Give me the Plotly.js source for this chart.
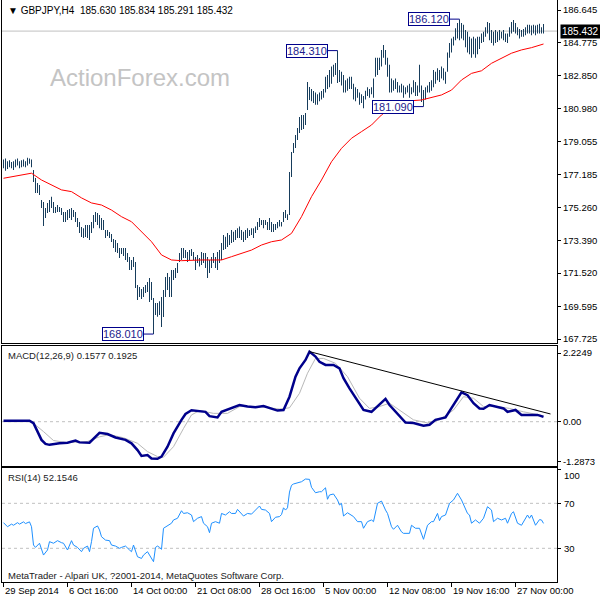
<!DOCTYPE html>
<html><head><meta charset="utf-8">
<script src="https://cdn.plot.ly/plotly-3.0.1.min.js"></script>
<style>html,body{margin:0;padding:0;background:#fff;}#chart{width:600px;height:600px;}</style>
</head><body><div id="chart"></div>
<script>
// ---- price bars (H4), index 0..270 ----
const high = [
178.05,178.10,177.95,178.00,177.90,177.95,178.05,178.10,177.95,178.00,178.05,177.95,178.15,178.10,178.05,
177.44,176.98,176.70,176.58,175.72,175.60,175.26,175.55,175.72,175.90,175.60,175.31,175.43,175.31,175.26,
175.03,175.03,175.14,175.20,175.26,175.14,175.03,174.68,174.45,174.16,174.10,174.28,174.28,174.28,174.45,
174.86,175.03,174.97,174.86,174.68,174.57,173.99,173.99,173.88,173.76,173.48,173.42,173.25,172.96,172.96,
172.96,172.96,172.67,172.44,172.27,172.44,172.15,170.83,170.72,170.60,170.72,170.83,171.00,171.24,171.00,
170.09,169.80,169.80,169.90,170.14,170.55,171.29,171.52,171.29,171.70,171.70,171.81,172.10,172.67,172.96,
172.96,172.85,172.73,172.85,172.90,172.73,172.44,172.56,172.38,172.73,172.67,172.67,172.44,172.27,172.44,
172.67,172.44,172.73,172.85,173.25,173.71,173.60,173.82,173.71,173.99,173.90,173.99,174.10,174.20,173.99,
173.90,173.99,174.10,173.99,174.10,174.10,174.20,174.45,174.68,174.57,174.57,174.57,174.45,174.68,174.45,
174.34,174.34,174.45,174.57,174.45,175.03,175.14,174.90,177.33,178.48,179.00,179.46,179.86,180.49,180.61,
180.61,180.72,182.50,182.22,182.10,181.99,181.90,181.80,181.90,181.99,182.10,182.80,182.90,183.20,183.40,
183.50,183.60,184.31,183.20,183.10,182.90,182.60,182.70,182.80,182.80,182.40,182.20,182.10,181.90,181.80,
181.70,182.00,182.20,182.10,182.20,182.70,183.90,183.90,183.90,184.35,184.63,184.35,183.90,183.50,182.70,
182.60,182.70,182.50,182.30,182.40,182.30,182.20,182.30,182.40,182.20,182.60,182.50,182.30,183.50,182.30,
182.05,182.20,182.30,182.50,182.60,183.20,183.10,183.30,183.20,183.40,183.30,183.10,184.20,184.75,185.00,
185.10,185.60,185.90,186.12,185.90,185.80,185.50,185.40,185.10,185.00,185.10,185.00,185.10,185.10,185.30,
185.40,185.65,185.96,185.90,185.50,185.40,185.50,185.40,185.50,185.40,185.50,185.30,185.30,185.65,185.96,
186.07,185.90,185.65,185.55,185.50,185.55,185.65,185.80,185.80,185.75,185.80,185.75,185.80,185.85,185.65,185.834
];
const low = [
177.55,177.40,177.50,177.60,177.55,177.45,177.60,177.70,177.55,177.60,177.65,177.60,177.70,177.80,177.60,
176.75,176.12,176.12,176.01,175.26,174.22,174.68,174.97,175.03,175.26,174.97,174.97,175.03,175.03,174.86,
174.45,174.45,174.57,174.68,174.57,174.74,174.45,174.16,173.82,173.59,173.53,173.59,173.53,173.42,173.82,
174.10,174.45,174.28,174.10,173.99,173.99,173.53,173.65,173.53,173.30,172.96,172.73,172.67,172.38,172.62,
172.50,172.27,172.15,171.70,171.70,171.87,170.66,169.97,170.14,170.03,170.14,170.37,170.43,169.85,169.97,
168.01,169.11,169.00,169.10,168.41,168.99,170.14,170.55,170.14,170.14,171.12,171.24,171.52,172.15,172.27,
172.38,172.38,172.15,172.27,172.50,172.27,171.70,172.10,171.90,171.98,172.10,171.81,171.24,171.52,171.81,
172.10,171.81,171.70,172.10,172.27,172.84,172.90,173.02,173.13,173.25,173.30,173.42,173.53,173.53,173.42,
173.30,173.42,173.53,173.65,173.71,173.53,173.82,173.99,174.16,174.28,174.10,174.28,173.99,173.99,173.88,
173.88,173.99,174.10,174.20,174.20,174.45,174.68,174.57,174.86,177.04,178.42,178.71,179.17,179.57,179.74,
179.80,180.03,180.89,181.47,181.40,181.30,181.20,181.20,181.40,181.50,181.60,181.90,182.10,182.20,182.40,
182.80,182.90,182.45,182.50,182.30,181.90,181.90,182.00,182.10,182.10,181.50,181.40,181.60,181.20,181.30,
181.00,181.50,181.70,181.60,181.80,181.60,182.80,182.90,183.20,183.40,183.90,183.50,182.80,181.90,181.90,
182.00,182.10,181.90,181.90,181.90,181.60,181.80,181.90,181.60,181.80,181.90,181.70,181.70,181.90,181.35,
181.09,181.50,181.90,181.90,182.00,182.20,182.40,182.60,182.50,182.70,182.60,182.40,183.10,183.90,184.20,
184.60,184.90,185.00,184.90,185.00,184.90,184.50,184.20,184.10,183.90,184.10,183.90,184.10,184.40,184.75,
184.80,185.10,185.30,184.90,184.75,184.60,184.75,184.80,184.90,185.00,184.90,184.80,184.75,185.10,185.30,
185.40,185.30,185.20,185.00,185.10,185.10,185.20,185.30,185.30,185.20,185.30,185.20,185.30,185.30,185.30,185.291
];
const lastOpen = 185.630, lastHigh = 185.834, lastLow = 185.291, lastClose = 185.432;

// ---- moving average (red) ----
const maX = [0,14,19,24,29,34,39,44,49,54,59,64,69,74,79,84,89,94,99,104,109,114,119,124,129,134,139,144,149,154,159,164,169,174,179,184,189,194,199,204,209,214,219,224,229,234,239,244,249,254,259,264,270];
const maY = [176.97,177.26,176.87,176.58,176.30,176.20,175.84,175.55,175.43,175.14,174.76,174.47,173.90,173.32,172.56,172.27,172.23,172.27,172.27,172.27,172.27,172.46,172.65,172.84,173.13,173.32,173.42,173.80,174.76,175.91,176.87,177.92,178.69,179.27,179.65,180.03,180.61,181.04,181.30,181.43,181.47,181.60,181.76,182.04,182.62,183.00,183.15,183.58,183.87,184.16,184.35,184.48,184.69];

// ---- MACD(12,26,9) ----
const macdX = [0,13,15,17,19,21,23,28,32,36,38,43,46,48,52,56,61,64,67,69,72,74,77,79,82,85,89,91,94,98,101,103,107,109,114,118,122,126,130,134,137,140,143,146,148,151,153,156,158,161,165,168,170,173,177,180,184,187,191,193,197,201,205,210,213,216,221,225,229,232,235,238,240,243,247,250,252,256,259,263,267,270];
const macdY = [0.03,0.03,-0.05,-0.32,-0.59,-0.72,-0.75,-0.70,-0.68,-0.61,-0.67,-0.68,-0.49,-0.36,-0.40,-0.51,-0.59,-0.70,-0.92,-1.11,-1.08,-1.19,-1.20,-1.13,-0.81,-0.38,0.06,0.25,0.37,0.35,0.32,0.18,0.14,0.32,0.43,0.54,0.49,0.47,0.51,0.43,0.36,0.38,0.81,1.46,1.73,2.00,2.27,2.11,1.94,1.84,1.84,1.73,1.41,1.08,0.70,0.38,0.32,0.49,0.74,0.54,0.25,-0.03,-0.04,-0.13,-0.10,0.06,0.14,0.54,0.95,0.86,0.60,0.43,0.42,0.54,0.49,0.43,0.32,0.38,0.22,0.22,0.22,0.1577];
const sigX = [0,14,20,25,32,42,48,53,60,67,72,77,80,85,90,94,98,105,112,118,128,138,143,148,152,156,160,166,172,178,183,188,193,198,205,212,218,225,230,235,240,247,253,260,270];
const sigY = [0.0,0.0,-0.32,-0.61,-0.68,-0.64,-0.49,-0.42,-0.52,-0.70,-0.97,-1.13,-1.15,-0.81,-0.22,0.22,0.36,0.27,0.27,0.49,0.49,0.41,0.45,0.92,1.57,2.05,2.05,1.89,1.46,0.76,0.43,0.49,0.60,0.38,0.06,-0.04,0.06,0.38,0.81,0.76,0.49,0.49,0.43,0.32,0.1925];
const trendX = [153, 273.5];
const trendY = [2.27, 0.25];

// ---- RSI(14) ----
const rsiX = [0,2,4,5,7,8,10,11,13,14,15,16,18,19,20,22,23,25,27,29,30,32,34,35,37,39,40,42,43,44,45,47,48,49,51,53,54,56,58,59,61,63,64,65,67,69,70,72,74,75,76,77,78,79,80,82,84,85,87,89,90,92,94,95,97,99,100,102,103,104,106,108,109,111,113,114,116,117,119,120,122,124,126,128,129,131,133,134,136,138,139,140,141,142,143,144,145,148,149,151,153,154,156,158,159,161,162,163,165,167,168,169,170,172,174,175,177,179,180,182,184,185,187,189,191,192,194,195,197,199,200,203,204,206,208,209,210,212,214,215,217,218,219,221,223,225,227,229,230,232,233,234,236,238,240,242,244,245,247,249,251,252,254,255,257,259,262,263,264,266,268,269,270];
const rsiY = [52.8,49.2,51.5,50.5,52.8,51.5,53.5,52,53.5,49.2,32.9,30.8,34.5,28.5,24,28.5,35.9,34.5,36.8,35,34.5,28.5,36.8,32.9,30.8,27,30,32,27,35.9,47.8,49.9,46.3,40.3,37.3,36.8,32.9,32,30,30.8,32,28.5,27,32.9,22.5,21,24,27,21,18.1,30.8,32,30.8,29.1,47.8,49.9,52.3,55.2,56.7,63.4,61,61.6,59.6,53.7,56.7,58.2,52.3,49.2,43.9,52.3,53.7,52.3,61,59.6,62.5,61,61,64.6,60.4,58.7,61,60.4,64,67.6,64.6,64,61,53.7,57.6,58.2,60,66,64,66,80,86,87.2,88.4,89.2,91.6,91.3,84.2,79.4,80.3,80.3,83.8,73.6,77.4,78.3,73,68.5,70,58.7,61.6,59.6,58.2,53.7,53.7,47.8,53.7,55.2,53.7,70,72,64,61,49.2,46.9,50.5,44.6,43.3,43.3,50.5,47.8,47.8,43.3,38,50.5,53.7,53.7,61,54.6,58.2,59.6,70,73,78.9,73,68.5,61,59.6,52.3,55.2,52.3,56.7,67,64,53.7,56.7,55.2,56.7,52.3,61,62.5,52.3,50.5,59.6,56.7,59.6,50.5,55.5,55.2,52.1546];

// ---- axis labels & marked prices ----
const priceTicks = [186.645,184.775,182.850,180.980,179.055,177.185,175.260,173.390,171.520,169.595,167.725];
const macdTicks = [2.2249, 0, -1.2873];
const macdTickText = ['2.2249','0.00','-1.2873'];
const rsiTicks = [100, 70, 30, 0];
const timeTickIdx = [0,32,64,96,128,160,192,224,256];
const timeTickText = ['29 Sep 2014','6 Oct 16:00','14 Oct 00:00','21 Oct 08:00','28 Oct 16:00','5 Nov 00:00','12 Nov 08:00','19 Nov 16:00','27 Nov 00:00'];
const tagIdx = [228, 167, 210, 75];
const tagPrice = [186.120, 184.310, 181.090, 168.010];

const FONT = 'Liberation Sans, Arial, sans-serif';
const idx = high.map((_, i) => i);
const span = high.map((h, i) => h - low[i]);
const XR = [-0.75, 276.75];

const traces = [
  {type:'bar', x: idx, y: span, base: low, width: 0.5, xaxis:'x', yaxis:'y',
   marker:{color:'#173d5c', line:{width:0}}, hoverinfo:'skip'},
  {type:'scatter', mode:'lines', x: maX, y: maY, xaxis:'x', yaxis:'y',
   line:{color:'#ff0000', width:1}, hoverinfo:'skip'},
  {type:'scatter', mode:'lines', x: sigX, y: sigY, xaxis:'x2', yaxis:'y2',
   line:{color:'#b8b8b8', width:1}, hoverinfo:'skip'},
  {type:'scatter', mode:'lines', x: macdX, y: macdY, xaxis:'x2', yaxis:'y2',
   line:{color:'#00008b', width:2.5}, hoverinfo:'skip'},
  {type:'scatter', mode:'lines', x: trendX, y: trendY, xaxis:'x2', yaxis:'y2',
   line:{color:'#000000', width:1}, hoverinfo:'skip'},
  {type:'scatter', mode:'lines', x: rsiX, y: rsiY, xaxis:'x3', yaxis:'y3',
   line:{color:'#1e90ff', width:1}, hoverinfo:'skip'}
];

const xBase = {range: XR, showline:true, mirror:true, linecolor:'#000', linewidth:1,
  showgrid:false, zeroline:false, showticklabels:false, ticks:'', fixedrange:true};
const yBase = {side:'right', showline:true, mirror:true, linecolor:'#000', linewidth:1,
  showgrid:false, zeroline:false, ticks:'outside', ticklen:3, tickcolor:'#000',
  tickfont:{family:FONT, size:9.5, color:'#000'}, fixedrange:true};

const annotations = [];
annotations.push({xref:'paper', yref:'paper', x:0.008, y:(582-10)/582, xanchor:'left', yanchor:'middle',
  showarrow:false, font:{family:FONT, size:10, color:'#000'},
  text:'▼ GBPJPY,H4\u00a0\u00a0' + [lastOpen,lastHigh,lastLow,lastClose].map(v=>v.toFixed(3)).join(' ')});
annotations.push({xref:'paper', yref:'paper', x:(48-2)/555, y:(582-78)/582, xanchor:'left', yanchor:'middle',
  showarrow:false, font:{family:FONT, size:24, color:'#c4c4c4'}, text:'ActionForex.com'});
annotations.push({xref:'paper', yref:'paper', x:0.008, y:(582-355)/582, xanchor:'left', yanchor:'middle',
  showarrow:false, font:{family:FONT, size:9.5, color:'#1a1a1a'},
  text:'MACD(12,26,9) ' + macdY[macdY.length-1].toFixed(4) + ' ' + sigY[sigY.length-1].toFixed(4)});
annotations.push({xref:'paper', yref:'paper', x:0.008, y:(582-477)/582, xanchor:'left', yanchor:'middle',
  showarrow:false, font:{family:FONT, size:9.5, color:'#1a1a1a'},
  text:'RSI(14) ' + rsiY[rsiY.length-1].toFixed(4)});
annotations.push({xref:'paper', yref:'paper', x:0.008, y:(582-575)/582, xanchor:'left', yanchor:'middle',
  showarrow:false, font:{family:FONT, size:9.5, color:'#1a1a1a'},
  text:'MetaTrader - Alpari UK, ?2001-2014, MetaQuotes Software Corp.'});
timeTickIdx.forEach((v, k) => annotations.push({xref:'x3', yref:'paper', x:v, y:0, xanchor:'left', yanchor:'top',
  yshift:-1, xshift:-1, showarrow:false, font:{family:FONT, size:9.5, color:'#000'}, text:timeTickText[k]}));
tagIdx.forEach((v, k) => annotations.push({xref:'x', yref:'y', x:v, y:tagPrice[k], text:tagPrice[k].toFixed(3),
  showarrow:true, arrowhead:0, arrowwidth:1, arrowcolor:'#00008b', ax:-31, ay:0, standoff:0, startstandoff:0,
  bgcolor:'#ffffff', bordercolor:'#00008b', borderwidth:1, borderpad:0,
  font:{family:FONT, size:11, color:'#1c1c8c'}}));
annotations.push({xref:'paper', yref:'y', x:1, y:lastClose, xanchor:'left', yanchor:'middle', xshift:3,
  showarrow:false, bgcolor:'#000', borderpad:1, font:{family:FONT, size:10, color:'#fff'}, text:lastClose.toFixed(3)});
const rsiShift = [-5.5, 0, 0, 6];
rsiTicks.forEach((v, k) => annotations.push({xref:'paper', yref:'y3', x:1, y:v, xanchor:'left', yanchor:'middle',
  xshift:5, yshift:rsiShift[k], showarrow:false, font:{family:FONT, size:9.5, color:'#000'}, text:String(v)}));

const layout = {
  width:600, height:600, paper_bgcolor:'#fff', plot_bgcolor:'#fff',
  margin:{l:2, r:43, t:0, b:18}, showlegend:false, hovermode:false, barmode:'overlay',
  xaxis: Object.assign({}, xBase, {anchor:'y'}),
  xaxis2: Object.assign({}, xBase, {anchor:'y2'}),
  xaxis3: Object.assign({}, xBase, {anchor:'y3', ticks:'outside', ticklen:4, tickcolor:'#000',
    tickmode:'array', tickvals: timeTickIdx}),
  yaxis: Object.assign({}, yBase, {anchor:'x', domain:[239/582, 1], range:[167.496, 187.22],
    tickmode:'array', tickvals: priceTicks, ticktext: priceTicks.map(v=>v.toFixed(3))}),
  yaxis2: Object.assign({}, yBase, {anchor:'x2', domain:[116/582, 236/582], range:[-1.435, 2.452],
    tickmode:'array', tickvals: macdTicks, ticktext: macdTickText}),
  yaxis3: Object.assign({}, yBase, {anchor:'x3', domain:[0, 114/582], range:[0.04, 101.4],
    tickmode:'array', tickvals: rsiTicks, showticklabels:false}),
  shapes: [
    {type:'line', layer:'below', xref:'x domain', x0:0, x1:1, yref:'y', y0:lastClose, y1:lastClose,
     line:{color:'#c0c0c0', width:1}},
    {type:'line', layer:'below', xref:'x2 domain', x0:0, x1:1, yref:'y2', y0:0, y1:0,
     line:{color:'#c0c0c0', width:1, dash:'3px,3px'}},
    {type:'line', layer:'below', xref:'x3 domain', x0:0, x1:1, yref:'y3', y0:70, y1:70,
     line:{color:'#c0c0c0', width:1, dash:'3px,3px'}},
    {type:'line', layer:'below', xref:'x3 domain', x0:0, x1:1, yref:'y3', y0:30, y1:30,
     line:{color:'#c0c0c0', width:1, dash:'3px,3px'}}
  ],
  annotations: annotations
};

Plotly.newPlot('chart', traces, layout, {staticPlot:true, displayModeBar:false});
</script>
</body></html>
